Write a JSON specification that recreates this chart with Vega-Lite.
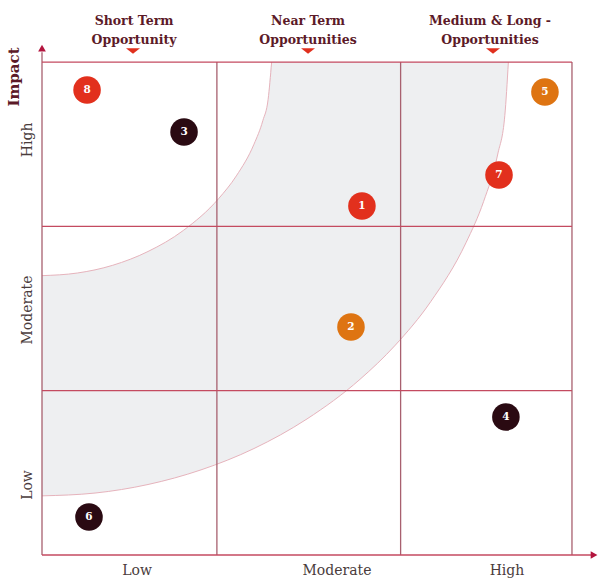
{
  "$schema": "https://vega.github.io/schema/vega-lite/v6.json",
  "width": 557,
  "height": 514,
  "autosize": {"type": "none"},
  "padding": {"left": 42, "top": 41, "right": 1, "bottom": 26},
  "background": "#ffffff",
  "config": {"view": {"stroke": null}},
  "resolve": {"scale": {"color": "independent", "shape": "independent"}},
  "datasets": {
    "band": [
      {"x": 0, "lo": 0.36, "hi": 1.7},
      {"x": 0.2, "lo": 0.368, "hi": 1.716},
      {"x": 0.4, "lo": 0.391, "hi": 1.763},
      {"x": 0.6, "lo": 0.429, "hi": 1.847},
      {"x": 0.8, "lo": 0.484, "hi": 1.975},
      {"x": 1.0, "lo": 0.557, "hi": 2.169},
      {"x": 1.1, "lo": 0.6, "hi": 2.307},
      {"x": 1.2, "lo": 0.648, "hi": 2.5},
      {"x": 1.25, "lo": 0.675, "hi": 2.643},
      {"x": 1.28, "lo": 0.691, "hi": 2.773},
      {"x": 1.3, "lo": 0.702, "hi": 3.0},
      {"x": 1.5, "lo": 0.828, "hi": 3.0},
      {"x": 1.8, "lo": 1.069, "hi": 3.0},
      {"x": 2.0, "lo": 1.277, "hi": 3.0},
      {"x": 2.2, "lo": 1.541, "hi": 3.0},
      {"x": 2.4, "lo": 1.9, "hi": 3.0},
      {"x": 2.5, "lo": 2.152, "hi": 3.0},
      {"x": 2.58, "lo": 2.44, "hi": 3.0},
      {"x": 2.62, "lo": 2.676, "hi": 3.0},
      {"x": 2.64, "lo": 3.0, "hi": 3.0}
    ],
    "arcs": [
      {"arc": "inner", "x": 0, "y": 1.7},
      {"arc": "inner", "x": 0.2, "y": 1.716},
      {"arc": "inner", "x": 0.4, "y": 1.763},
      {"arc": "inner", "x": 0.6, "y": 1.847},
      {"arc": "inner", "x": 0.8, "y": 1.975},
      {"arc": "inner", "x": 1.0, "y": 2.169},
      {"arc": "inner", "x": 1.1, "y": 2.307},
      {"arc": "inner", "x": 1.2, "y": 2.5},
      {"arc": "inner", "x": 1.25, "y": 2.643},
      {"arc": "inner", "x": 1.28, "y": 2.773},
      {"arc": "inner", "x": 1.3, "y": 3.0},
      {"arc": "outer", "x": 0, "y": 0.36},
      {"arc": "outer", "x": 0.3, "y": 0.377},
      {"arc": "outer", "x": 0.6, "y": 0.429},
      {"arc": "outer", "x": 0.9, "y": 0.518},
      {"arc": "outer", "x": 1.2, "y": 0.648},
      {"arc": "outer", "x": 1.5, "y": 0.828},
      {"arc": "outer", "x": 1.8, "y": 1.069},
      {"arc": "outer", "x": 2.0, "y": 1.277},
      {"arc": "outer", "x": 2.2, "y": 1.541},
      {"arc": "outer", "x": 2.4, "y": 1.9},
      {"arc": "outer", "x": 2.5, "y": 2.152},
      {"arc": "outer", "x": 2.58, "y": 2.44},
      {"arc": "outer", "x": 2.62, "y": 2.676},
      {"arc": "outer", "x": 2.64, "y": 3.0}
    ],
    "grid": [
      {"orient": "v", "x": 0, "y": 0, "x2": 0, "y2": 3.06},
      {"orient": "v", "x": 0.99, "y": 0, "x2": 0.99, "y2": 3},
      {"orient": "v", "x": 2.03, "y": 0, "x2": 2.03, "y2": 3},
      {"orient": "v", "x": 3, "y": 0, "x2": 3, "y2": 3},
      {"orient": "h", "x": 0, "y": 0, "x2": 3.11, "y2": 0},
      {"orient": "h", "x": 0, "y": 1, "x2": 3, "y2": 1},
      {"orient": "h", "x": 0, "y": 2, "x2": 3, "y2": 2},
      {"orient": "h", "x": 0, "y": 3, "x2": 3, "y2": 3}
    ],
    "arrows": [
      {"dir": "up", "x": 0, "y": 3.085},
      {"dir": "right", "x": 3.125, "y": 0}
    ],
    "markers": [
      {"x": 0.515, "y": 3.067},
      {"x": 1.506, "y": 3.067},
      {"x": 2.553, "y": 3.067}
    ],
    "points": [
      {"id": "1", "x": 1.811, "y": 2.124, "group": "red"},
      {"id": "2", "x": 1.749, "y": 1.387, "group": "orange"},
      {"id": "3", "x": 0.804, "y": 2.574, "group": "dark"},
      {"id": "4", "x": 2.626, "y": 0.84, "group": "dark"},
      {"id": "5", "x": 2.847, "y": 2.818, "group": "orange"},
      {"id": "6", "x": 0.266, "y": 0.231, "group": "dark"},
      {"id": "7", "x": 2.587, "y": 2.312, "group": "red"},
      {"id": "8", "x": 0.255, "y": 2.83, "group": "red"}
    ],
    "xlabels": [
      {"label": "Low", "x": 0.538, "y": -0.097},
      {"label": "Moderate", "x": 1.67, "y": -0.097},
      {"label": "High", "x": 2.632, "y": -0.097}
    ],
    "ylabels": [
      {"label": "High", "x": -0.079, "y": 2.526},
      {"label": "Moderate", "x": -0.079, "y": 1.491},
      {"label": "Low", "x": -0.079, "y": 0.426}
    ],
    "toplabels": [
      {"label": "Short Term", "x": 0.521, "y": 3.25},
      {"label": "Opportunity", "x": 0.521, "y": 3.135},
      {"label": "Near Term", "x": 1.506, "y": 3.25},
      {"label": "Opportunities", "x": 1.506, "y": 3.135},
      {"label": "Medium & Long -", "x": 2.536, "y": 3.25},
      {"label": "Opportunities", "x": 2.536, "y": 3.135}
    ],
    "title": [
      {"label": "Impact", "x": -0.158, "y": 2.909}
    ]
  },
  "layer": [
    {
      "data": {"name": "band"},
      "mark": {"type": "area", "color": "#eeeff1", "opacity": 1, "interpolate": "monotone"},
      "encoding": {
        "x": {"field": "x", "type": "quantitative", "scale": {"domain": [0, 3.153], "nice": false, "zero": false}, "axis": null},
        "y": {"field": "lo", "type": "quantitative", "scale": {"domain": [0, 3.128], "nice": false, "zero": false}, "axis": null},
        "y2": {"field": "hi"}
      }
    },
    {
      "data": {"name": "arcs"},
      "mark": {"type": "line", "color": "#e6b3bc", "strokeWidth": 1, "interpolate": "monotone"},
      "encoding": {
        "x": {"field": "x", "type": "quantitative", "axis": null},
        "y": {"field": "y", "type": "quantitative", "axis": null},
        "detail": {"field": "arc"}
      }
    },
    {
      "data": {"name": "grid"},
      "mark": {"type": "rule", "strokeWidth": 1.3},
      "encoding": {
        "x": {"field": "x", "type": "quantitative", "axis": null},
        "y": {"field": "y", "type": "quantitative", "axis": null},
        "x2": {"field": "x2"},
        "y2": {"field": "y2"},
        "color": {"field": "orient", "type": "nominal", "scale": {"domain": ["v", "h"], "range": ["#a8606f", "#c44a60"]}, "legend": null}
      }
    },
    {
      "data": {"name": "arrows"},
      "mark": {"type": "point", "filled": true, "color": "#b3143e", "size": 60, "opacity": 1},
      "encoding": {
        "x": {"field": "x", "type": "quantitative", "axis": null},
        "y": {"field": "y", "type": "quantitative", "axis": null},
        "shape": {"field": "dir", "type": "nominal", "scale": {"domain": ["up", "right"], "range": ["triangle-up", "triangle-right"]}, "legend": null}
      }
    },
    {
      "data": {"name": "markers"},
      "mark": {"type": "point", "filled": true, "color": "#e0301e", "size": 196, "opacity": 1, "shape": "M-1,-0.4L1,-0.4L0,0.4Z"},
      "encoding": {
        "x": {"field": "x", "type": "quantitative", "axis": null},
        "y": {"field": "y", "type": "quantitative", "axis": null}
      }
    },
    {
      "data": {"name": "points"},
      "mark": {"type": "circle", "size": 760, "opacity": 1},
      "encoding": {
        "x": {"field": "x", "type": "quantitative", "axis": null},
        "y": {"field": "y", "type": "quantitative", "axis": null},
        "color": {"field": "group", "type": "nominal", "scale": {"domain": ["red", "orange", "dark"], "range": ["#e2301d", "#de7412", "#2a0a12"]}, "legend": null}
      }
    },
    {
      "data": {"name": "points"},
      "mark": {"type": "text", "color": "#ffffff", "font": "DejaVu Serif", "fontWeight": "bold", "fontSize": 10.5, "align": "center", "baseline": "middle"},
      "encoding": {
        "x": {"field": "x", "type": "quantitative", "axis": null},
        "y": {"field": "y", "type": "quantitative", "axis": null},
        "text": {"field": "id"}
      }
    },
    {
      "data": {"name": "xlabels"},
      "mark": {"type": "text", "color": "#4a3c3c", "font": "DejaVu Serif", "fontSize": 14, "align": "center", "baseline": "middle"},
      "encoding": {
        "x": {"field": "x", "type": "quantitative", "axis": null},
        "y": {"field": "y", "type": "quantitative", "axis": null},
        "text": {"field": "label"}
      }
    },
    {
      "data": {"name": "ylabels"},
      "mark": {"type": "text", "color": "#4a3c3c", "font": "DejaVu Serif", "fontSize": 14, "align": "center", "baseline": "middle", "angle": 270},
      "encoding": {
        "x": {"field": "x", "type": "quantitative", "axis": null},
        "y": {"field": "y", "type": "quantitative", "axis": null},
        "text": {"field": "label"}
      }
    },
    {
      "data": {"name": "toplabels"},
      "mark": {"type": "text", "color": "#5c1a28", "font": "DejaVu Serif", "fontWeight": "bold", "fontSize": 12.5, "align": "center", "baseline": "middle"},
      "encoding": {
        "x": {"field": "x", "type": "quantitative", "axis": null},
        "y": {"field": "y", "type": "quantitative", "axis": null},
        "text": {"field": "label"}
      }
    },
    {
      "data": {"name": "title"},
      "mark": {"type": "text", "color": "#5c1a28", "font": "DejaVu Serif", "fontWeight": "bold", "fontSize": 15, "align": "center", "baseline": "middle", "angle": 270},
      "encoding": {
        "x": {"field": "x", "type": "quantitative", "axis": null},
        "y": {"field": "y", "type": "quantitative", "axis": null},
        "text": {"field": "label"}
      }
    }
  ]
}
